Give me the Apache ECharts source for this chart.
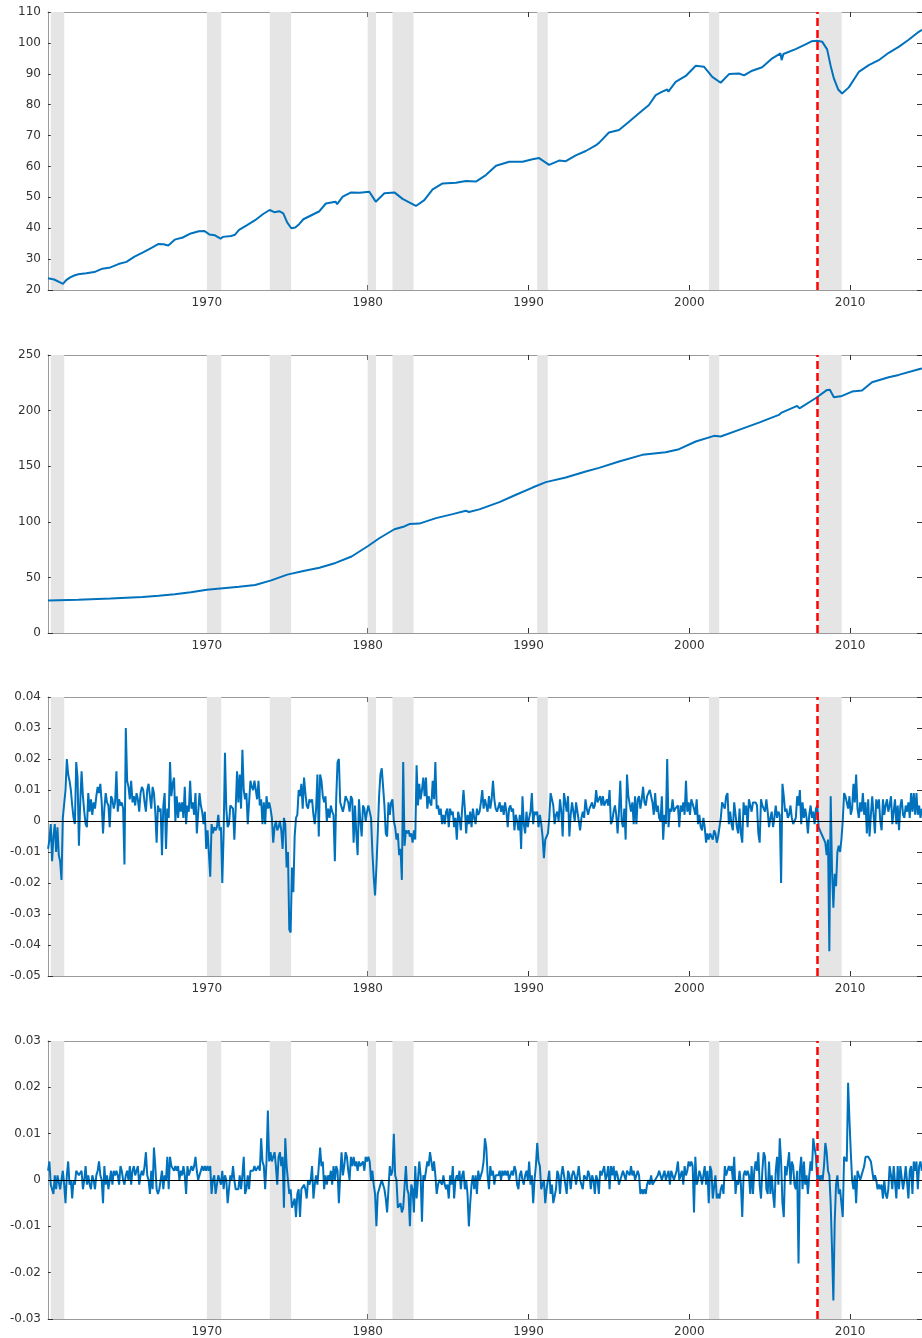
<!DOCTYPE html>
<html>
<head>
<meta charset="utf-8">
<title>IP, CPI and monthly changes</title>
<script src="https://cdn.jsdelivr.net/npm/echarts@6/dist/echarts.min.js"></script>
<style>
    html, body { margin: 0; padding: 0; background: #fff; }
    #myChart { width: 922px; height: 1338px; }
</style>
</head>
<body>
<div id="myChart"></div>
<script>
// x axis (years)
const xMin = 1960.12
const xMax = 2014.47
const xTicks = [1970, 1980, 1990, 2000, 2010]
const crisisDate = 2007.94

// recession shading
const recStart = [1960.29, 1970.0, 1973.91, 1980.0, 1981.54, 1990.54, 2001.22, 2008.05]
const recEnd   = [1961.13, 1970.89, 1975.24, 1980.52, 1982.85, 1991.2, 2001.86, 2009.47]

// panel 1: industrial production index
const ipDates = [1960.12, 1960.5, 1960.9, 1961.05, 1961.25, 1961.5, 1961.75, 1962.0, 1962.5, 1963.0, 1963.5, 1964.0, 1964.5,
    1965.0, 1965.5, 1966.0, 1966.5, 1967.0, 1967.3, 1967.6, 1968.0, 1968.5, 1969.0, 1969.5, 1969.85, 1970.15, 1970.5,
    1970.85, 1971.0, 1971.5, 1971.75, 1972.0, 1972.5, 1973.0, 1973.5, 1973.9, 1974.2, 1974.5, 1974.75, 1975.0, 1975.25,
    1975.5, 1975.75, 1976.0, 1976.5, 1977.0, 1977.4, 1978.0, 1978.1, 1978.45, 1978.97, 1979.5, 1980.1, 1980.5, 1980.6,
    1981.04, 1981.66, 1982.17, 1982.58, 1983.0, 1983.52, 1984.04, 1984.66, 1985.49, 1986.11, 1986.73, 1987.35, 1987.98,
    1988.8, 1989.63, 1990.25, 1990.66, 1991.28, 1991.9, 1992.32, 1992.94, 1993.56, 1994.18, 1994.4, 1995.0, 1995.63,
    1996.25, 1996.87, 1997.49, 1997.91, 1998.32, 1998.63, 1998.7, 1999.15, 1999.78, 2000.4, 2000.91, 2001.43, 2001.95,
    2002.47, 2003.09, 2003.4, 2003.91, 2004.53, 2005.16, 2005.67, 2005.74, 2005.85, 2006.61, 2007.23, 2007.6, 2007.95,
    2008.26, 2008.57, 2008.78, 2008.99, 2009.26, 2009.5, 2009.92, 2010.54, 2011.16, 2011.78, 2012.4, 2013.02, 2013.64,
    2014.27, 2014.47]
const ipLevel = [23.8, 23.4, 22.4, 22.0, 23.2, 24.1, 24.7, 25.1, 25.4, 25.8, 26.9, 27.3, 28.4,
    29.1, 30.8, 32.1, 33.5, 34.9, 34.8, 34.4, 36.3, 37.0, 38.3, 39.0, 39.1, 38.0, 37.7,
    36.6, 37.2, 37.5, 37.9, 39.5, 41.0, 42.6, 44.6, 45.9, 45.2, 45.5, 44.8, 41.8, 40.0,
    40.2, 41.4, 42.9, 44.2, 45.5, 48.0, 48.6, 47.8, 50.2, 51.6, 51.5, 51.8, 48.6, 48.5,
    51.3, 51.6, 49.5, 48.4, 47.2, 49.1, 52.6, 54.5, 54.7, 55.3, 55.1, 57.2, 60.2,
    61.5, 61.5, 62.3, 62.7, 60.5, 61.9, 61.7, 63.6, 65.0, 66.8, 67.7, 71.0, 71.8,
    74.5, 77.2, 79.9, 83.1, 84.2, 84.9, 84.2, 87.4, 89.3, 92.6, 92.3, 89.0, 87.1,
    89.9, 90.1, 89.5, 91.0, 92.1, 95.0, 96.6, 94.4, 96.4, 98.0, 99.5, 100.5, 100.7,
    100.4, 97.9, 92.8, 88.5, 84.9, 83.6, 85.6, 90.6, 92.8, 94.4, 96.8, 98.7, 101.0,
    103.6, 104.2]

// panel 2: consumer price index
const cpiDates = [1960.12, 1962.0, 1964.0, 1966.0, 1967.0, 1968.0, 1969.0, 1970.0, 1971.0, 1972.0, 1973.0, 1974.0,
    1975.0, 1976.0, 1977.0, 1978.0, 1979.0, 1980.0, 1980.72, 1981.66, 1982.28, 1982.59, 1983.21, 1984.25, 1985.28,
    1986.11, 1986.3, 1986.94, 1988.19, 1989.22, 1990.25, 1991.08, 1992.32, 1993.56, 1994.39, 1995.63, 1997.08,
    1998.53, 1999.36, 2000.4, 2001.54, 2001.95, 2003.09, 2004.33, 2005.57, 2005.74, 2005.85, 2006.71, 2006.85,
    2007.85, 2008.57, 2008.74, 2008.99, 2009.5, 2010.12, 2010.74, 2011.36, 2012.4, 2013.02, 2014.27, 2014.47]
const cpiLevel = [29.3, 30.0, 31.0, 32.3, 33.4, 34.8, 36.6, 38.8, 40.3, 41.6, 43.2, 47.3,
    52.5, 55.8, 58.7, 63.0, 68.8, 78.0, 85.2, 93.3, 95.8, 98.0, 98.4, 103.3, 106.9,
    109.9, 108.8, 111.2, 117.7, 124.3, 130.8, 135.7, 139.8, 145.2, 148.5, 154.2, 160.2,
    162.6, 165.3, 172.2, 177.3, 176.7, 182.7, 189.2, 196.1, 198.2, 197.4, 204.2, 202.0,
    211.1, 218.6, 218.8, 212.0, 213.2, 217.1, 218.0, 225.5, 230.0, 232.1, 237.2, 238.0]

// panels 3 and 4: monthly changes, first month at monthStart, one row per year
const monthStart = 1960.125
const ipGrowth = [
    -.009,-.006,-.001,-.013,-.005,-.001,-.010,-.002,-.011,-.013,-.019,.001,
    .001,.010,.020,.015,.013,.010,.005,.001,-.001,.019,.014,-.008,
    .006,.016,.008,.003,-.001,-.002,.009,.003,.007,.002,.006,.004,
    .008,.011,.009,.012,.006,-.004,.004,.009,.006,.005,-.002,.008,
    .007,.004,.006,.016,.003,.007,.005,.006,.004,-.014,.030,.013,
    .011,.007,.013,.006,.008,.005,.009,.007,.003,.009,.011,.010,
    .006,.003,.010,.012,.008,.004,.011,.009,.003,-.007,.005,.003,
    .004,-.011,.005,.009,-.009,.004,.001,.019,.008,.012,.014,.000,
    .008,.001,.006,.003,.006,.001,.011,-.001,.005,.003,.013,.004,
    .006,.002,.009,-.004,-.004,.009,.005,.003,-.001,.003,-.009,-.003,
    -.003,-.018,-.001,-.004,-.002,-.003,-.002,.002,-.003,-.002,-.020,-.004,
    .022,.004,-.002,-.001,.005,.005,.004,-.006,.004,.016,.006,.015,
    .004,.023,.010,.007,.009,-.001,-.001,.013,.011,.010,.013,.010,
    .007,.013,.005,.007,-.001,.006,-.001,.008,.004,.006,.004,.001,
    -.007,-.002,.000,-.003,-.002,.000,-.003,-.009,.001,-.001,-.015,-.010,
    -.035,-.036,-.015,-.023,-.005,.001,.002,.010,.008,.012,.004,.014,
    .009,.005,.004,.007,.006,.007,.002,-.001,.004,.015,-.005,.015,
    .013,.008,.006,.008,.000,.004,.001,.005,.003,.002,-.013,.007,
    .019,.020,.006,.006,.003,.005,.008,.007,.006,.003,.008,.007,
    -.007,.005,-.004,-.011,.007,.000,-.005,.005,.004,.000,.003,.005,
    .003,.001,-.010,-.018,-.024,-.015,-.004,.008,.015,.017,.011,.005,
    -.004,-.005,.006,.002,.006,.007,.000,-.002,-.006,-.004,-.011,-.009,
    -.019,.019,-.008,-.003,-.004,-.003,-.005,-.004,-.007,-.003,-.006,.018,
    .005,.012,.007,.010,.014,.008,.014,.004,.008,.006,.005,.013,
    .007,.019,.004,.005,.002,.004,-.001,.002,-.001,.003,.004,-.002,
    .004,.002,.003,-.002,.001,-.006,.003,.001,-.003,.004,.010,.004,
    -.004,.002,-.001,.003,-.002,.004,.001,-.001,.004,.002,.003,.006,
    .010,.004,.007,.007,.003,.008,.004,.007,.013,.007,.004,.003,
    .003,.006,.003,.005,.002,.006,.003,-.002,.004,.005,.003,.004,
    -.003,.002,.000,-.003,.002,-.009,.008,-.001,-.004,.003,-.002,.001,
    .003,.009,-.001,.003,.002,.003,-.002,.002,-.001,-.005,-.012,-.006,
    -.005,-.004,.001,.009,.007,.005,-.001,.002,.003,.000,.007,.003,
    -.005,.009,.009,.003,.008,-.005,.002,.006,.003,.000,.006,.003,
    .000,-.003,.001,.003,.001,.007,.004,.002,.004,.005,.006,.004,
    .005,.010,.006,.006,.008,.005,.008,.005,.006,.007,.005,.010,
    -.001,.000,.003,.005,.002,-.004,.003,.013,.000,-.002,.004,-.006,
    .015,.008,.008,.003,.006,-.001,.008,-.001,.007,.008,.004,.007,
    .011,.006,.005,.008,.009,.010,.008,.006,.002,.009,.003,.005,
    .001,.000,.008,-.006,.002,-.001,.020,-.002,.004,.003,.007,.003,
    .004,.004,.005,-.002,.005,.003,.006,.002,.013,.003,.006,.002,
    .007,.007,.004,.002,.007,-.001,.002,-.002,-.003,.001,-.002,-.007,
    -.004,-.006,-.004,-.005,-.006,-.003,-.004,-.007,-.005,-.002,.001,.006,
    .006,.004,.008,.009,-.001,.003,-.001,-.003,.006,.006,-.002,-.004,
    .004,-.004,-.007,.006,.002,.005,-.002,.007,.007,.003,.006,.006,
    .006,.005,-.004,-.007,.007,.005,.004,.003,.007,.003,-.002,.001,
    .003,-.002,.001,.005,.001,.003,.002,-.020,.012,.008,.003,.004,
    .001,.002,.005,.001,-.001,.000,.001,.008,.005,.010,-.001,.006,
    .001,.004,.001,-.004,.002,.005,.001,.003,-.001,.004,.005,-.002,
    -.003,-.003,-.005,-.005,-.007,-.011,-.006,-.042,.008,-.016,-.028,-.017,
    -.021,-.010,-.008,-.010,-.006,.000,.009,.008,.006,.004,.008,.002,
    .004,.012,.006,.015,.004,.001,.006,.003,.009,.002,.006,-.004,
    .007,-.005,.002,.008,.002,-.004,.007,.004,.007,.000,-.003,.007,
    .002,.005,.007,.003,.005,.008,-.001,.003,.007,-.001,.005,-.003,
    .005,.007,.002,.001,.005,.003,.006,.001,.009,.003,.009,.002,
    .009,.002,.005,.001,.004]
const inflation = [
    .002,.004,-.001,-.002,-.003,.001,-.002,.001,.001,-.002,.000,.002,
    -.001,-.005,.001,.004,-.001,.000,-.004,.000,-.001,.002,.002,.001,
    .001,.002,-.002,.000,.003,-.001,.001,-.001,-.002,.001,.000,-.002,
    .001,.002,.004,.001,.000,-.005,.003,-.001,.001,-.002,.000,.002,
    -.001,.002,.001,.002,.001,-.001,.003,.002,.000,-.001,.001,.002,
    .000,.003,-.001,.002,.003,.001,.002,.003,-.001,.001,.002,.001,
    .003,.006,.001,.000,-.003,.002,-.002,.007,.003,-.002,-.003,-.002,
    .000,.002,-.002,.001,.000,.005,-.002,.005,.003,.003,.002,.003,
    .002,.003,.000,.002,.001,.003,.001,-.003,.003,.001,.002,.003,
    .002,.003,.005,.002,.000,.000,.002,.003,.002,.003,.002,.003,
    .002,.003,-.003,.000,.001,-.003,-.001,.001,.000,-.001,.002,-.002,
    .001,.000,-.005,-.002,.001,.000,.003,.000,-.002,-.002,-.002,.001,
    -.002,.001,.005,-.003,-.002,.001,-.002,.002,.002,.002,.003,.002,
    .002,.003,.002,.009,.004,.003,-.002,.004,.015,.004,.006,.004,
    .004,.006,.003,-.001,.005,.006,.003,.005,-.006,.009,.003,.000,
    -.003,-.002,-.006,-.005,-.004,-.008,-.003,-.002,-.008,-.002,-.002,-.001,
    -.002,-.004,.000,-.001,.000,.003,-.004,-.001,.001,-.001,.003,.007,
    .003,.004,-.002,.001,-.001,.001,.000,.002,-.001,.003,.000,.003,
    .002,-.005,.001,.006,.001,.003,.006,.005,.002,.000,.005,.003,
    .005,.003,.004,.002,.004,.003,.003,.004,.002,.005,.004,.005,
    .004,.000,.002,-.001,-.003,-.010,-.003,-.002,-.001,.000,-.001,-.002,
    -.004,-.007,-.002,.003,.001,.002,.010,.001,.000,-.006,-.006,-.005,
    -.007,-.006,-.006,.003,-.002,-.003,-.010,-.001,-.002,-.007,.003,-.004,
    .000,.004,.001,-.009,.001,.000,.002,.004,.003,.006,.004,.002,
    .004,.001,-.003,-.001,.000,.000,-.001,.001,-.001,-.002,-.001,-.004,
    .001,-.001,.003,-.004,.000,.001,.000,.002,-.002,.001,.002,-.002,
    .000,-.003,-.010,-.005,-.001,.001,-.002,.001,-.003,.002,.000,.001,
    .002,.004,.009,.007,.001,-.002,.003,.001,.002,-.001,.001,.001,
    .001,.002,.000,.002,.001,.002,.001,.002,.000,.001,.002,.001,
    .003,.002,-.001,-.002,.001,.002,.000,-.001,.001,.002,.000,.004,
    -.001,.001,-.005,.000,.003,.008,.004,.003,-.002,-.001,.000,-.005,
    -.002,.000,.002,-.003,-.001,-.005,-.005,-.002,.002,.001,-.003,.001,
    .003,.001,-.001,-.003,.002,.001,-.002,.001,.002,.001,-.001,.001,
    .003,.000,-.001,-.002,.001,.001,.000,.002,.001,-.002,.001,.000,
    -.003,.001,.000,-.003,.002,.001,.002,.003,.000,.001,.003,-.002,
    .003,.001,.003,.000,.002,.001,-.001,.000,.001,.002,.001,.000,
    .002,.002,.001,.003,.001,.002,.000,.001,.002,.001,-.003,-.002,
    -.003,-.002,-.003,-.001,.000,-.001,.001,-.001,-.001,.000,.000,.001,
    .002,.001,.000,.001,.002,.000,.001,.002,-.001,.002,.001,.000,
    .001,.002,.004,.000,.001,.002,-.001,.003,.001,.002,.004,.003,
    .004,.003,-.007,.005,-.001,.000,.002,.001,-.001,.001,.003,-.001,
    .002,-.005,.003,.002,-.004,-.004,.001,-.004,-.003,-.004,-.002,-.001,
    -.003,.003,.001,.002,.003,.002,.003,.000,.005,-.003,.000,-.001,
    .002,-.001,-.008,.001,.002,.001,.002,.001,-.003,.003,-.003,.002,
    .004,.002,.006,-.001,-.004,.002,.006,.005,-.002,-.003,.004,-.003,
    .001,-.003,-.006,.002,.005,-.001,.009,.004,-.005,-.008,.003,.001,
    .001,.006,-.001,.004,.003,-.001,-.002,.002,-.018,.002,.005,-.002,
    .004,-.001,.001,-.003,.001,.004,.002,.009,.007,.005,.000,.001,
    .000,.001,.000,.003,.008,.006,.002,.001,-.005,-.015,-.026,-.009,
    -.001,.001,-.003,-.002,-.005,-.008,.005,.005,.004,.021,.013,.006,
    .000,-.002,.001,-.005,.002,.002,.000,.001,.002,.003,.005,.005,
    .005,.005,.004,.002,.000,.001,.000,-.002,-.001,-.002,-.001,-.004,
    .000,-.003,-.004,-.002,.003,.001,-.002,.003,.003,-.004,.003,-.002,
    .003,.003,-.002,.000,.003,.003,-.004,.002,.003,-.003,.004,.002,
    .004,-.002,.003,.004,.002]

const myChart = echarts.init(document.getElementById('myChart'))

const font = 'DejaVu Sans'
const lineBlue = '#0072bd'
const boxColor = '#9a9a9a'
const tickColor = '#333'

// layout and y range of each panel
const panels = [
    { top: 12,   height: 278, min: 20,    max: 110,  interval: 10 },
    { top: 355,  height: 278, min: 0,     max: 250,  interval: 50 },
    { top: 697,  height: 279, min: -0.05, max: 0.04, interval: 0.01 },
    { top: 1041, height: 278, min: -0.03, max: 0.03, interval: 0.01 }
]

const monthly = arr => arr.map((v, i) => [monthStart + i / 12, v])
const paired = (d, v) => d.map((x, i) => [x, v[i]])
const lineData = [paired(ipDates, ipLevel), paired(cpiDates, cpiLevel), monthly(ipGrowth), monthly(inflation)]

const bands = recStart.map((s, i) => [{ xAxis: s }, { xAxis: recEnd[i] }])

const grid = [], xAxis = [], yAxis = [], series = []

panels.forEach((p, k) => {
    grid.push({ left: 48, width: 875, top: p.top, height: p.height })

    xAxis.push({
        type: 'value', gridIndex: k, position: 'bottom', min: xMin, max: xMax,
        axisLine: { show: true, onZero: false, lineStyle: { color: boxColor, width: 1 } },
        axisTick: { show: true, inside: true, length: 5, customValues: xTicks, lineStyle: { color: tickColor } },
        axisLabel: { customValues: xTicks, formatter: v => String(v), color: '#333', fontFamily: font, fontSize: 12, margin: 7 },
        splitLine: { show: false }
    })

    yAxis.push({
        type: 'value', gridIndex: k, position: 'left',
        min: p.min, max: p.max, interval: p.interval,
        axisLine: { show: true, onZero: false, lineStyle: { color: boxColor, width: 1 } },
        axisTick: { show: true, inside: true, length: 5, lineStyle: { color: tickColor } },
        axisLabel: { color: '#333', fontFamily: font, fontSize: 12, margin: 7 },
        splitLine: { show: false }
    })

    // recession bands
    series.push({
        type: 'line', xAxisIndex: k, yAxisIndex: k, data: [], silent: true, z: 1,
        markArea: { silent: true, itemStyle: { color: '#e5e5e5' }, data: bands }
    })

    series.push({
        type: 'line', xAxisIndex: k, yAxisIndex: k, data: lineData[k],
        showSymbol: false, symbol: 'none', z: 3,
        lineStyle: { color: lineBlue, width: 2 }
    })

    // zero line (lower panels) and the red dashed date line
    const marks = [{ xAxis: crisisDate, lineStyle: { color: '#ff0000', type: [8, 4], width: 2.5 } }]
    if (k >= 2) marks.unshift({ yAxis: 0, lineStyle: { color: '#000', type: 'solid', width: 1 } })
    series.push({
        type: 'line', xAxisIndex: k, yAxisIndex: k, data: [], silent: true, z: 5,
        markLine: { silent: true, symbol: ['none', 'none'], label: { show: false }, animation: false, data: marks }
    })
})

// top and right sides of each box
panels.forEach((p, k) => {
    xAxis.push({
        type: 'value', gridIndex: k, position: 'top', min: xMin, max: xMax,
        axisLine: { show: true, onZero: false, lineStyle: { color: boxColor, width: 1 } },
        axisTick: { show: true, inside: true, length: 5, customValues: xTicks, lineStyle: { color: tickColor } },
        axisLabel: { show: false },
        splitLine: { show: false }
    })
    yAxis.push({
        type: 'value', gridIndex: k, position: 'right',
        min: p.min, max: p.max, interval: p.interval,
        axisLine: { show: true, onZero: false, lineStyle: { color: boxColor, width: 1 } },
        axisTick: { show: true, inside: true, length: 5, lineStyle: { color: tickColor } },
        axisLabel: { show: false },
        splitLine: { show: false }
    })
})

const option = {
    animation: false,
    backgroundColor: '#fff',
    grid: grid,
    xAxis: xAxis,
    yAxis: yAxis,
    series: series
}
myChart.setOption(option)
</script>
</body>
</html>
